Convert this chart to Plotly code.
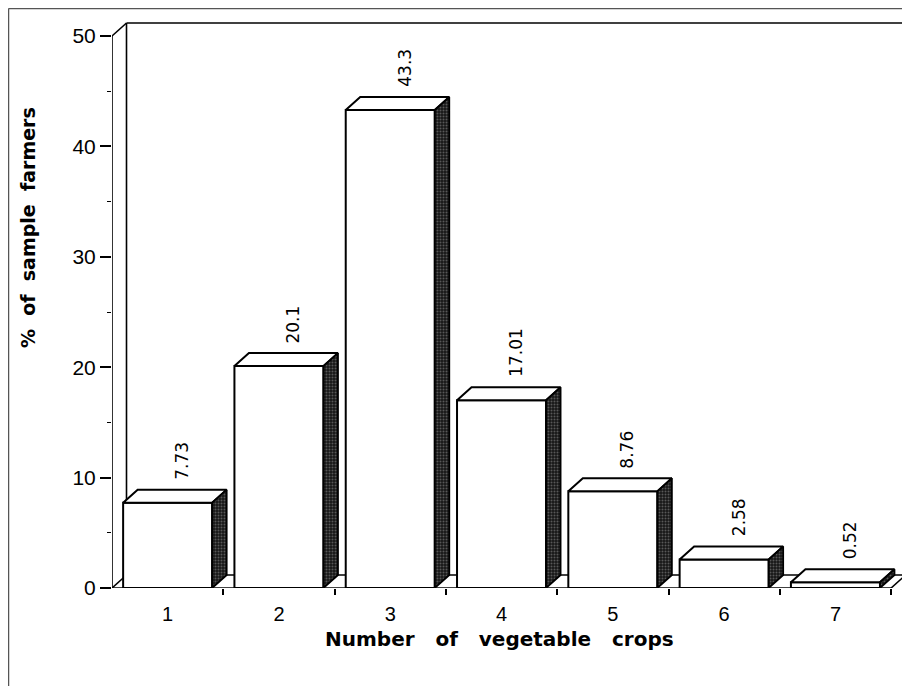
import plotly.graph_objects as go

# ---- data ----
categories = [1, 2, 3, 4, 5, 6, 7]
tick_labels = ["1", "2", "3", "4", "5", "6", "7"]
percent_farmers = [7.73, 20.1, 43.3, 17.01, 8.76, 2.58, 0.52]
value_labels = ["7.73", "20.1", "43.3", "17.01", "8.76", "2.58", "0.52"]
y_ticks = [0, 10, 20, 30, 40, 50]
y_minor = [5, 15, 25, 35, 45]

# ---- geometry ----
PAGE_OFF = 8                      # default body margin of the html page
W, H = 910 - PAGE_OFF, 686 - PAGE_OFF
ML, MR, MT, MB = 104, 2, 11, 98
pw, ph = W - ML - MR, H - MT - MB
px_per_x = 111.3
px_per_y = 11.04
x0 = 0.5
xmax_front = 7.5
ymax_front = 50
DX = 14.5 / px_per_x
DY = 13.0 / px_per_y
BW = 0.8
x_range = [x0, x0 + pw / px_per_x]
y_range = [0, ph / px_per_y]
FONT = "Liberation Sans, Arial, sans-serif"
TFONT = "DejaVu Sans, sans-serif"
LINE = dict(color="black", width=1.6)
NB = "\u00a0"


def paper_x(px):
    return (px - PAGE_OFF - ML) / pw


def paper_y(py):
    return (H - MB - (py - PAGE_OFF)) / ph


fig = go.Figure()

# front faces
fig.add_trace(go.Bar(
    x=categories, y=percent_farmers, width=BW,
    marker=dict(color="white", line=dict(color="black", width=2)),
    hoverinfo="skip", showlegend=False))

# top faces
tx, ty = [], []
for c, v in zip(categories, percent_farmers):
    a, b = c - BW / 2, c + BW / 2
    tx += [a, a + DX, b + DX, b, a, None]
    ty += [v, v + DY, v + DY, v, v, None]
fig.add_trace(go.Scatter(x=tx, y=ty, mode="lines", fill="toself",
                         fillcolor="white", line=dict(color="black", width=2),
                         hoverinfo="skip", showlegend=False))

# side faces
sx, sy = [], []
for c, v in zip(categories, percent_farmers):
    b = c + BW / 2
    sx += [b, b, b + DX, b + DX, b, None]
    sy += [0, v, v + DY, DY, 0, None]
fig.add_trace(go.Scatter(x=sx, y=sy, mode="lines", fill="toself",
                         fillcolor="#1c1c1c",
                         fillpattern=dict(shape=".", fgcolor="#9a9a9a", bgcolor="#161616",
                                          size=3, solidity=0.35),
                         line=dict(color="black", width=1.8),
                         hoverinfo="skip", showlegend=False))


# frame (walls / floor) drawn below bars
def seg(xa, ya, xb, yb):
    fig.add_shape(type="line", x0=xa, y0=ya, x1=xb, y1=yb, xref="x", yref="y",
                  layer="below", line=LINE)


xb0, xb1 = x0 + DX, xmax_front + DX
seg(xb0, DY, xb0, ymax_front + DY)
seg(xb0, ymax_front + DY, xb1, ymax_front + DY)
seg(xb1, ymax_front + DY, xb1, DY)
seg(x0, 0, x0, ymax_front)
seg(x0, ymax_front, xb0, ymax_front + DY)
seg(x0, 0, xmax_front, 0)
seg(x0, 0, xb0, DY)
seg(xb0, DY, xb1, DY)
seg(xmax_front, 0, xb1, DY)

# value labels
for c, v, t in zip(categories, percent_farmers, value_labels):
    fig.add_annotation(x=c + DX, y=v + DY, text=t, textangle=-90, showarrow=False,
                       xanchor="center", yanchor="bottom", yshift=8,
                       font=dict(family=TFONT, size=17, color="black"))

# axis titles
fig.add_annotation(xref="paper", yref="paper", x=paper_x(28), y=paper_y(228),
                   text="<b>%" + NB * 2 + "of" + NB * 2 + "sample" + NB * 2 + "farmers</b>",
                   textangle=-90, showarrow=False, xanchor="center", yanchor="middle",
                   font=dict(family=TFONT, size=19, color="black"))
fig.add_annotation(xref="paper", yref="paper", x=paper_x(323), y=paper_y(639),
                   text="<b>Number" + NB * 3 + "of" + NB * 3 + "vegetable" + NB * 3 + "crops</b>",
                   showarrow=False, xanchor="left", yanchor="middle",
                   font=dict(family=TFONT, size=20, color="black"))

# outer scan frame (top and left edges)
fig.add_shape(type="line", xref="paper", yref="paper",
              x0=paper_x(8.5), x1=paper_x(910), y0=paper_y(8.5), y1=paper_y(8.5),
              line=dict(color="#555", width=1.5))
fig.add_shape(type="line", xref="paper", yref="paper",
              x0=paper_x(8.5), x1=paper_x(8.5), y0=paper_y(8.5), y1=paper_y(686),
              line=dict(color="#555", width=1.5))

fig.update_xaxes(range=x_range, tickvals=categories, ticktext=tick_labels,
                 ticks="outside", ticklen=8, tickcolor="rgba(0,0,0,0)",
                 showgrid=False, zeroline=False, showline=False,
                 tickfont=dict(family=FONT, size=20, color="black"),
                 minor=dict(tickvals=[1.5, 2.5, 3.5, 4.5, 5.5, 6.5, 7.5], ticks="outside",
                            ticklen=6, tickcolor="black", tickwidth=1.5, showgrid=False))
fig.update_yaxes(range=y_range, tickvals=y_ticks, ticks="outside", ticklen=11,
                 tickwidth=1.5, tickcolor="black",
                 showgrid=False, zeroline=False, showline=False,
                 tickfont=dict(family=FONT, size=21, color="black"),
                 minor=dict(tickvals=y_minor, ticks="outside", ticklen=4,
                            tickcolor="black", tickwidth=1.2, showgrid=False))

fig.update_layout(width=W, height=H, margin=dict(l=ML, r=MR, t=MT, b=MB),
                  plot_bgcolor="white", paper_bgcolor="white", bargap=0.2)

fig.write_html("out.html")
